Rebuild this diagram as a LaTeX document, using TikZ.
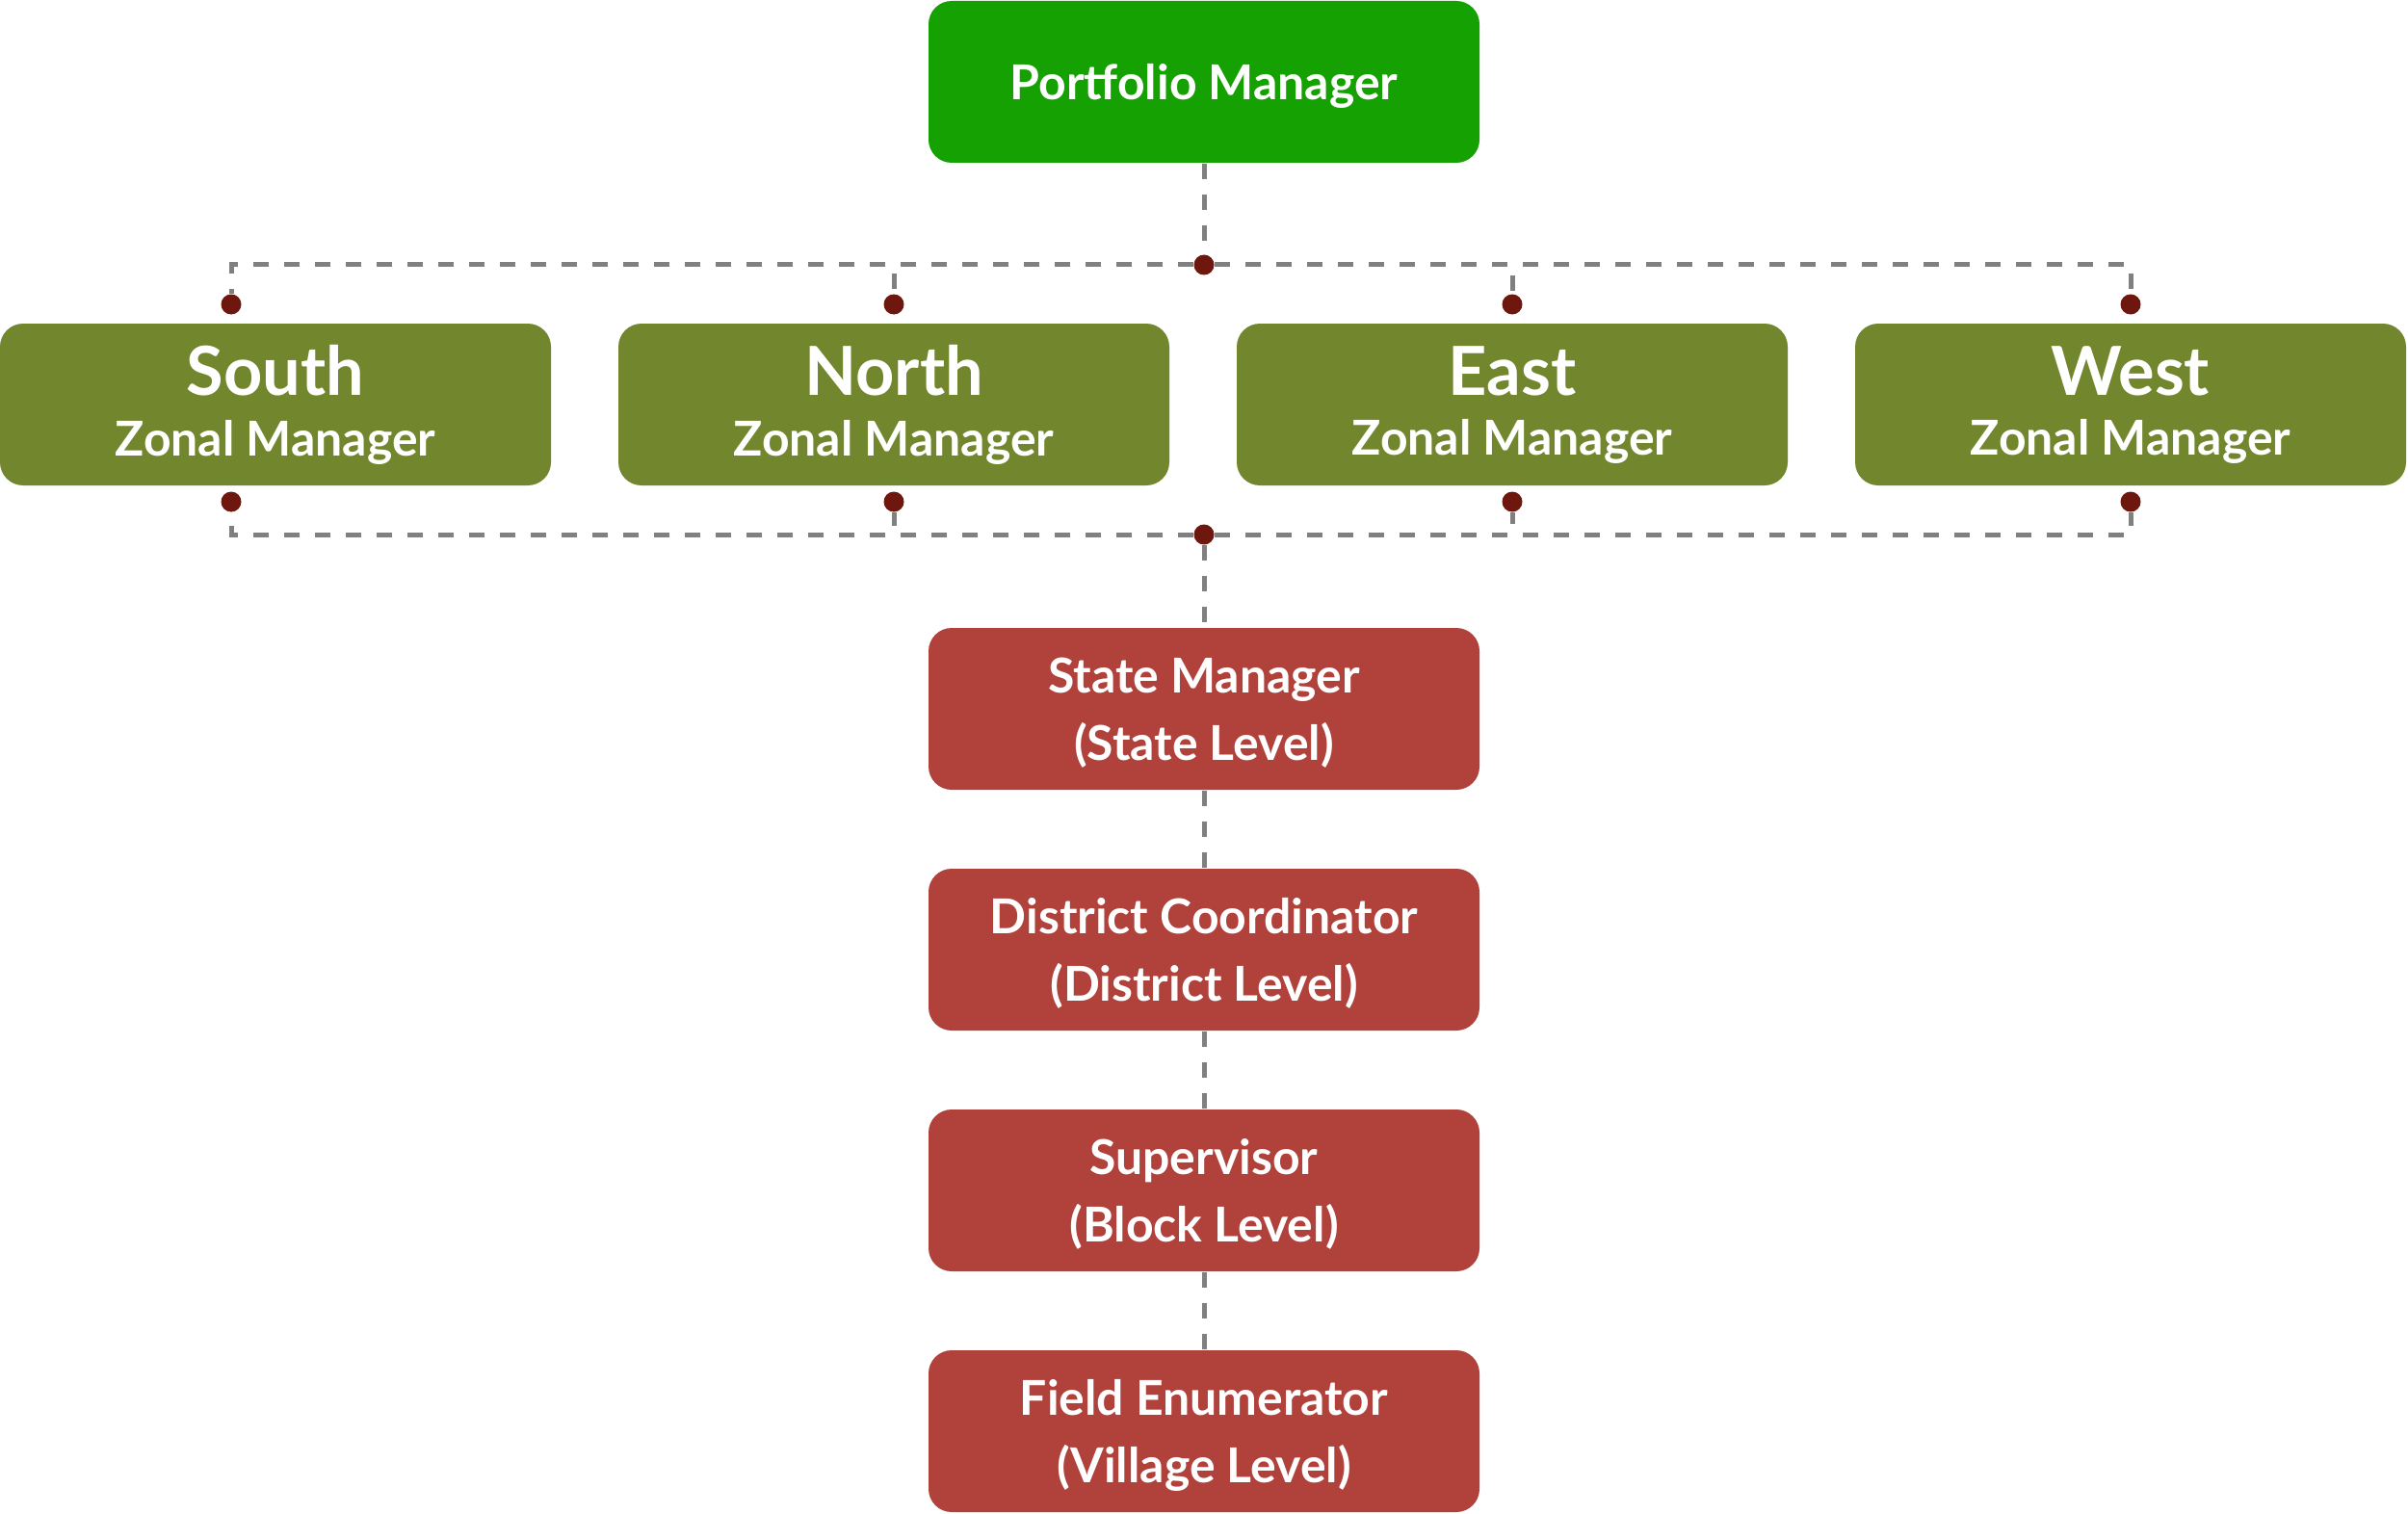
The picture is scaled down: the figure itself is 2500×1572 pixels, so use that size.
\documentclass[tikz,border=0pt]{standalone}
\usepackage{fontspec}
\setmainfont{Lato}
\definecolor{topgreen}{RGB}{22,161,3}
\definecolor{zonegreen}{RGB}{114,134,46}
\definecolor{levelred}{RGB}{176,65,59}
\definecolor{dotred}{RGB}{110,23,14}
\definecolor{linegray}{RGB}{128,128,128}
\begin{document}
\begin{tikzpicture}[x=0.1mm,y=-0.1mm,
every node/.style={font=\bfseries\fontsize{14.2}{19.9}\selectfont,text=white},
box/.style={%
rounded corners=2.4mm,
minimum width=57.2mm,
minimum height=16.8mm,
align=center,
text depth=-1.7pt,
inner sep=0pt
},
head/.style={box,fill=topgreen},
zone/.style={box,fill=zonegreen,text depth=2.3pt},
level/.style={box,fill=levelred},
dot/.style={%
circle,
fill=dotred,
inner sep=0pt,
minimum size=2.1mm
},
link/.style={%
draw=linegray,
line width=0.5mm,
dash pattern=on 1.6mm off 1.6mm
}]
\useasboundingbox (0,0) rectangle (2500,1572);
\node[head]at(1250,85)(pm){Portfolio Manager};
\foreach \z/\n/\x/\d in {south/South/286/240,north/North/928/928,east/East/1570/1570,west/West/2212/2212}{%
\node[zone]at(\x,420)(\z){{\fontsize{20}{24}\selectfont \n}\\[-2.2pt]Zonal Manager};
\node[dot]at(\d,316)(\z-in){};
\node[dot]at(\d,521)(\z-out){};
}
\node[dot]at(1250,275)(hub){};
\node[dot]at(1250,555)(low){};
\node[level]at(1250,736)(state){State Manager\\(State Level)};
\node[level]at(1250,986)(district){District Coordinator\\(District Level)};
\node[level]at(1250,1236)(block){Supervisor\\(Block Level)};
\node[level]at(1250,1486)(field){Field Enumerator\\(Village Level)};
% zone buses
\draw[link] (pm) -- (hub);
\foreach \z in {south,north,east,west}{%
\draw[link] (hub) -| (\z-in);
\draw[link] (low) -| (\z-out);
}
% chain of levels
\draw[link] (low) -- (state);
\draw[link] (state) -- (district);
\draw[link] (district) -- (block);
\draw[link] (block) -- (field);
\end{tikzpicture}
\end{document}
